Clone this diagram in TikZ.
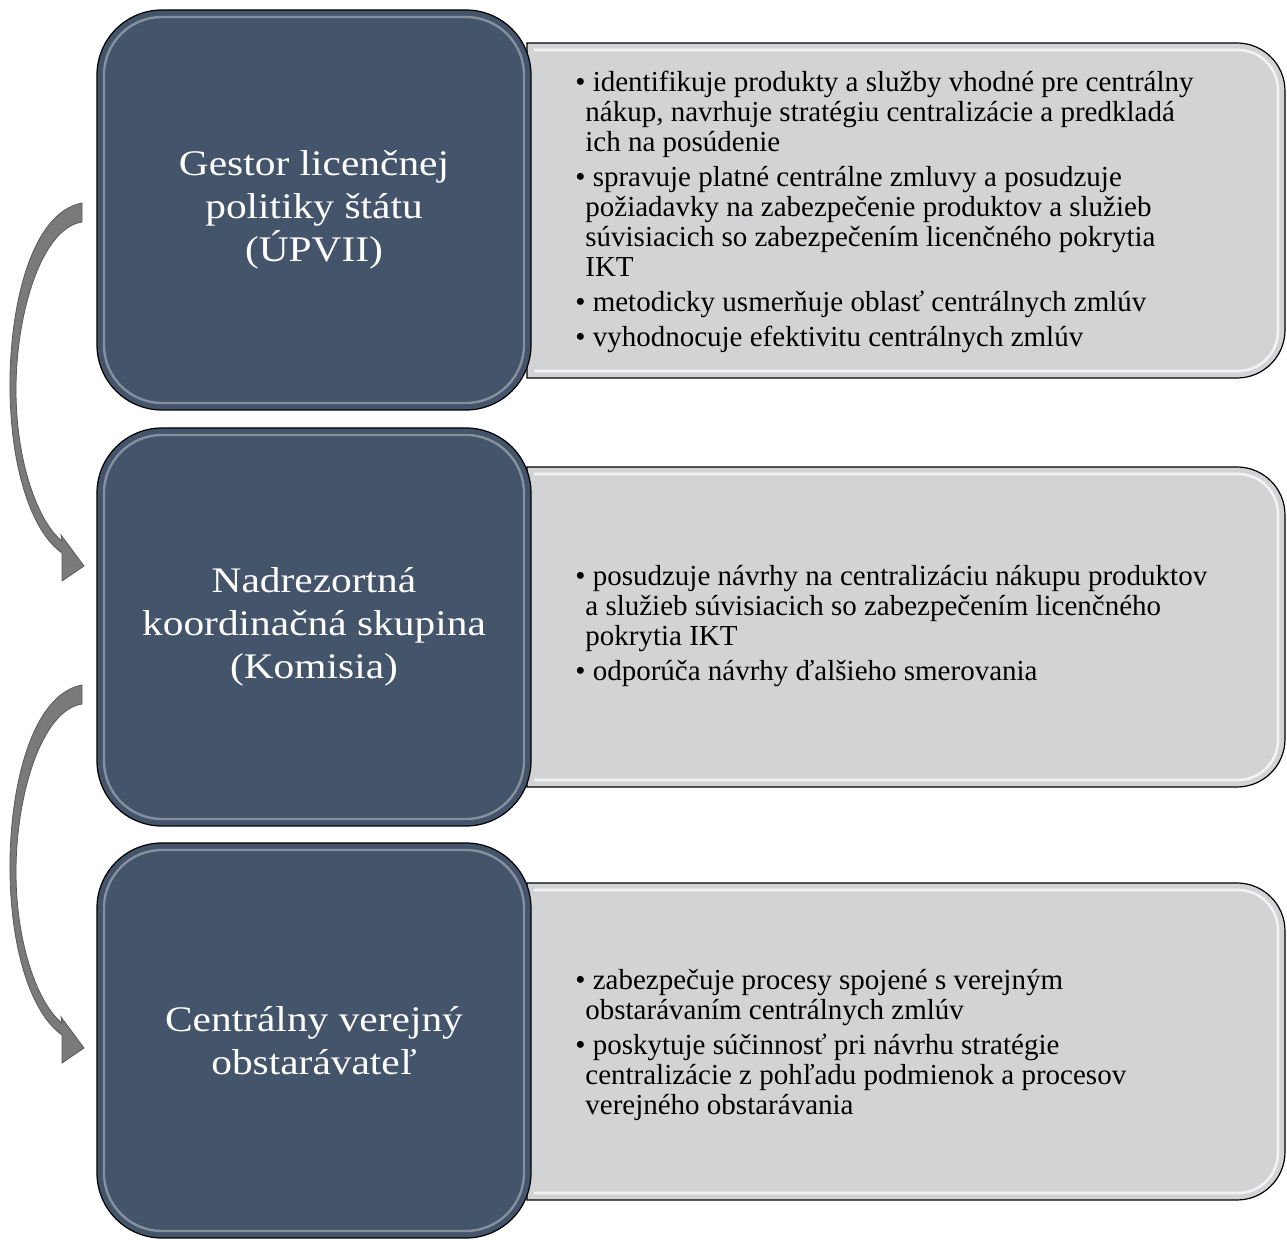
\documentclass[tikz,border=0pt]{standalone}
\usepackage{fontspec}
\setmainfont{Liberation Serif}
\newfontfamily\headfont{Liberation Serif}[FakeStretch=1.15]
\definecolor{darkblue}{HTML}{44546A}
\definecolor{panel}{HTML}{D2D3D5}
\definecolor{arrowgray}{HTML}{7A7A7A}
\begin{document}
\begin{tikzpicture}[x=0.5pt,y=-0.5pt,
  darkbox/.style={draw=black, line width=0.6pt, fill=darkblue, rounded corners=32.5pt,
    minimum width=217pt, text=white, align=center, inner sep=0pt,
    font=\headfont\fontsize{18}{21.5}\selectfont},
  darkgloss/.style={draw=white, draw opacity=0.35, line width=1.2pt, rounded corners=29pt},
  panelbox/.style={draw=black, line width=0.6pt, fill=panel},
  panelgloss/.style={draw=white, draw opacity=0.75, line width=1.3pt},
  paneltext/.style={anchor=west, align=left, inner sep=0pt, text=black,
    font=\fontsize{14.5}{15}\selectfont},
  curvedarrow/.style={fill=arrowgray, draw=black!65, line width=0.4pt}
]
\useasboundingbox (0,0) rectangle (1287,1240);

% ---------- gray panels ----------
\draw[panelbox] (527,43) -- (1100,43) [rounded corners=24pt] -- (1285,43) -- (1285,378) -- (1100,378) [sharp corners] -- (527,378) -- cycle;
\draw[panelgloss] (534,50) -- (1100,50) [rounded corners=20pt] -- (1278,50) -- (1278,371) -- (1100,371) [sharp corners] -- (534,371);

\draw[panelbox] (527,467) -- (1100,467) [rounded corners=24pt] -- (1285,467) -- (1285,787) -- (1100,787) [sharp corners] -- (527,787) -- cycle;
\draw[panelgloss] (534,474) -- (1100,474) [rounded corners=20pt] -- (1278,474) -- (1278,780) -- (1100,780) [sharp corners] -- (534,780);

\draw[panelbox] (527,883) -- (1100,883) [rounded corners=24pt] -- (1285,883) -- (1285,1200) -- (1100,1200) [sharp corners] -- (527,1200) -- cycle;
\draw[panelgloss] (534,890) -- (1100,890) [rounded corners=20pt] -- (1278,890) -- (1278,1193) -- (1100,1193) [sharp corners] -- (534,1193);

% ---------- dark boxes ----------
\node[darkbox, minimum height=200pt] (b1) at (314,210) {Gestor licenčnej\\politiky štátu\\(ÚPVII)};
\draw[darkgloss] (104,17) rectangle (524,403);
\node[darkbox, minimum height=199pt] (b2) at (314,627) {Nadrezortná\\koordinačná skupina\\(Komisia)};
\draw[darkgloss] (104,435) rectangle (524,819);
\node[darkbox, minimum height=197.5pt] (b3) at (314,1040.5) {Centrálny verejný\\obstarávateľ};
\draw[darkgloss] (104,850) rectangle (524,1231);

% ---------- panel texts ----------
\node[paneltext] (t1) at (575,212) {%
\textbullet\ identifikuje produkty a služby vhodné pre centrálny\\
\hspace*{5pt}nákup, navrhuje stratégiu centralizácie a predkladá\\
\hspace*{5pt}ich na posúdenie\\[2.5pt]
\textbullet\ spravuje platné centrálne zmluvy a posudzuje\\
\hspace*{5pt}požiadavky na zabezpečenie produktov a služieb\\
\hspace*{5pt}súvisiacich so zabezpečením licenčného pokrytia\\
\hspace*{5pt}IKT\\[2.5pt]
\textbullet\ metodicky usmerňuje oblasť centrálnych zmlúv\\[2.5pt]
\textbullet\ vyhodnocuje efektivitu centrálnych zmlúv};

\node[paneltext] (t2) at (575,626) {%
\textbullet\ posudzuje návrhy na centralizáciu nákupu produktov\\
\hspace*{5pt}a služieb súvisiacich so zabezpečením licenčného\\
\hspace*{5pt}pokrytia IKT\\[2.5pt]
\textbullet\ odporúča návrhy ďalšieho smerovania};

\node[paneltext] (t3) at (575,1045) {%
\textbullet\ zabezpečuje procesy spojené s verejným\\
\hspace*{5pt}obstarávaním centrálnych zmlúv\\[2.5pt]
\textbullet\ poskytuje súčinnosť pri návrhu stratégie\\
\hspace*{5pt}centralizácie z pohľadu podmienok a procesov\\
\hspace*{5pt}verejného obstarávania};

% ---------- curved arrows ----------
\foreach \dy in {0,482}{
\path[curvedarrow, shift={(0,\dy)}]
  (82,203) .. controls (30,213) and (9,310) .. (10,390)
  .. controls (11,470) and (32,532) .. (62,553)
  -- (62,581) -- (84,566) -- (61,535) -- (62,541)
  .. controls (38,522) and (16,462) .. (16,390)
  .. controls (16,312) and (42,228) .. (82,222) -- cycle;
}
\end{tikzpicture}
\end{document}
